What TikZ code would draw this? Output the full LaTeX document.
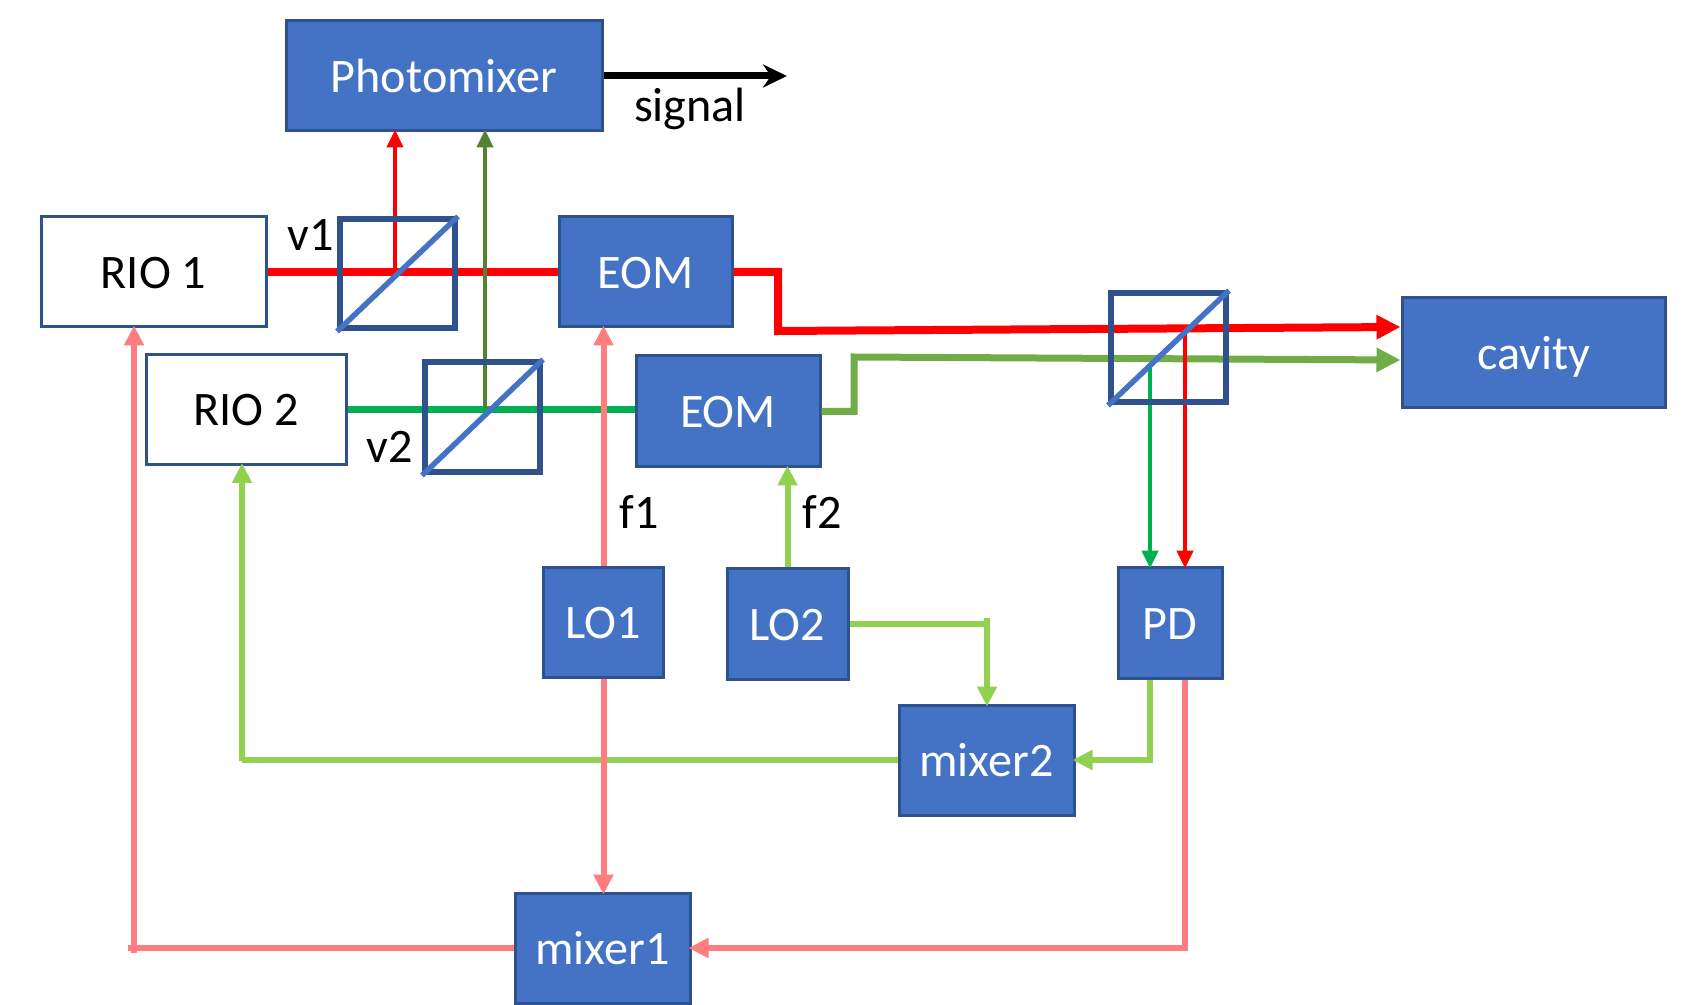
\documentclass[tikz,border=0pt]{standalone}
\usepackage{fontspec}
\setmainfont{Carlito}
\usepackage{xcolor}
\usepackage{tikz}
\usetikzlibrary{calc,arrows.meta}
\definecolor{boxBlue}{HTML}{4472C4}
\definecolor{boxEdge}{HTML}{2F528F}
\definecolor{beamRed}{HTML}{FF0000}
\definecolor{beamGreen}{HTML}{00B050}
\definecolor{beamDark}{HTML}{548235}
\definecolor{beamOlive}{HTML}{70AD47}
\definecolor{beamLime}{HTML}{92D050}
\definecolor{beamPink}{HTML}{FF7C80}
\tikzstyle{tsText} = [ 
    font=\fontsize{13.7}{16}\selectfont
]
\tikzstyle{tsWhite} = [ 
    rectangle,
    tsText,
    text=black,
    text height=0.45cm,
    text depth=0.12cm,
    draw=boxEdge,
    fill=white,
    inner sep=0pt,
    line width=0.3mm]
\tikzstyle{tsBlue} = [ 
    tsWhite,
    text=white,
    fill=boxBlue]
\tikzstyle{tsCube} = [ 
    rectangle,
    draw=boxEdge,
    inner sep=0pt,
    line width=0.6mm]
\tikzstyle{tsDiag} = [ 
    draw=boxBlue,
    line width=0.55mm]
\tikzstyle{tsLabel} = [ 
    tsText,
    text=black,
    inner sep=0pt]
\tikzstyle{tsThin} = [ 
    -{Triangle[length=1.8mm,width=1.6mm]},
    shorten >=-0.3mm,
    line width=0.45mm]
\tikzstyle{tsFeed} = [ 
    -{Triangle[length=2.0mm,width=1.9mm]},
    shorten >=-0.3mm,
    line width=0.6mm]

\begin{document}
\begin{tikzpicture}

    \useasboundingbox (0,0) rectangle (16.83,10.04);

    % sources and modulators
    \node[tsWhite, minimum width=2.25cm, minimum height=1.10cm] (rio1) at (1.535,7.32) {RIO 1};
    \node[tsWhite, minimum width=2.00cm, minimum height=1.10cm] (rio2) at (2.46,5.945) {RIO 2};
    \node[tsBlue, minimum width=3.16cm, minimum height=1.10cm] (photomixer) at (4.44,9.28) {Photomixer};
    \node[tsBlue, minimum width=1.73cm, minimum height=1.10cm] (eom1) at (6.455,7.32) {EOM};
    \node[tsBlue, minimum width=1.84cm, minimum height=1.11cm] (eom2) at (7.28,5.925) {EOM};
    \node[tsBlue, minimum width=2.63cm, minimum height=1.10cm] (cavity) at (15.335,6.51) {cavity};

    % oscillators, detector and mixers
    \node[tsBlue, minimum width=1.20cm, minimum height=1.10cm] (lo1) at (6.035,3.82) {LO1};
    \node[tsBlue, minimum width=1.21cm, minimum height=1.11cm] (lo2) at (7.875,3.805) {LO2};
    \node[tsBlue, minimum width=1.04cm, minimum height=1.11cm] (pd) at (11.70,3.815) {PD};
    \node[tsBlue, minimum width=1.75cm, minimum height=1.10cm] (mixer2) at (9.865,2.44) {mixer2};
    \node[tsBlue, minimum width=1.75cm, minimum height=1.10cm] (mixer1) at (6.025,0.56) {mixer1};

    % points where the beams leave the cubes
    \coordinate (pick1) at (3.95,7.33);
    \coordinate (pick2) at (4.85,5.96);
    \coordinate (pickGreen) at (11.50,6.36);
    \coordinate (pickRed) at (11.85,6.74);
    \coordinate (kinkRed) at (7.78,6.73);
    \coordinate (kinkOlive) at (8.54,6.47);
    \coordinate (tapRio1) at (1.34,0.56);
    \coordinate (tapRio2) at (2.42,2.43);
    \coordinate (tapMixer2) at (9.87,3.81);
    \coordinate (signalEnd) at (7.87,9.28);

    % beams
    \draw[beamRed, line width=0.8mm] (rio1.east) -- (eom1.west);
    \draw[beamGreen, line width=0.7mm] (rio2.east) -- (rio2.east -| eom2.west);
    \draw[beamRed, line width=0.8mm, -{Triangle[length=2.4mm,width=2.3mm]}]
        (eom1.east) -- (kinkRed |- eom1.east) -- (kinkRed) -- ($(cavity.west)+(0,0.26)$);
    \draw[beamOlive, line width=0.7mm, -{Triangle[length=2.4mm,width=2.3mm]}]
        (eom2.east) -- (kinkOlive |- eom2.east) -- (kinkOlive) -- ($(cavity.west)+(0,-0.07)$);
    \draw[beamRed, tsThin] (pick1) -- (pick1 |- photomixer.south);
    \draw[beamDark, tsThin] (pick2) -- (pick2 |- photomixer.south);
    \draw[beamGreen, tsThin] (pickGreen) -- (pickGreen |- pd.north);
    \draw[beamRed, tsThin] (pickRed) -- (pickRed |- pd.north);
    \draw[black, line width=0.7mm, -{Stealth[length=2.4mm,width=2.3mm]}] (photomixer.east) -- (signalEnd);

    % feedback lines
    \draw[beamLime, line width=0.6mm] (mixer2.west) -- (tapRio2 |- mixer2.west);
    \draw[beamLime, tsFeed] (tapRio2) -- (tapRio2 |- rio2.south);
    \draw[beamLime, tsFeed] (lo2.north) -- (lo2.north |- eom2.south);
    \draw[beamLime, line width=0.6mm] (lo2.east) -- ($(tapMixer2 |- lo2.east)+(0.03,0)$);
    \draw[beamLime, tsFeed] ($(tapMixer2)+(0,0.05)$) -- (tapMixer2 |- mixer2.north);
    \draw[beamLime, line width=0.6mm] (pickGreen |- pd.south) -- (pickGreen |- mixer2.east);
    \draw[beamLime, tsFeed] ($(pickGreen |- mixer2.east)+(0.03,0)$) -- (mixer2.east);
    \draw[beamPink, tsFeed] (lo1.north) -- (lo1.north |- eom1.south);
    \draw[beamPink, tsFeed] (lo1.south) -- (lo1.south |- mixer1.north);
    \draw[beamPink, line width=0.6mm] (mixer1.west) -- ($(tapRio1)+(-0.06,0)$);
    \draw[beamPink, tsFeed] ($(tapRio1)+(0,-0.05)$) -- (tapRio1 |- rio1.south);
    \draw[beamPink, line width=0.6mm] (pickRed |- pd.south) -- ($(pickRed |- mixer1.east)+(0,-0.03)$);
    \draw[beamPink, tsFeed] (pickRed |- mixer1.east) -- (mixer1.east);

    % beam splitter cubes
    \node[tsCube, minimum width=1.15cm, minimum height=1.09cm] (cube1) at (3.975,7.30) {};
    \node[tsCube, minimum width=1.15cm, minimum height=1.10cm] (cube2) at (4.825,5.865) {};
    \node[tsCube, minimum width=1.15cm, minimum height=1.09cm] (cube3) at (11.685,6.56) {};
    \draw[tsDiag] (cube1.south west) -- (cube1.north east);
    \draw[tsDiag] (cube2.south west) -- (cube2.north east);
    \draw[tsDiag] (cube3.south west) -- (cube3.north east);

    % labels
    \node[tsLabel] (v1) at (3.11,7.69) {v1};
    \node[tsLabel] (v2) at (3.90,5.57) {v2};
    \node[tsLabel] (f1) at (6.39,4.92) {f1};
    \node[tsLabel] (f2) at (8.22,4.92) {f2};
    \node[tsLabel] (signal) at (6.90,8.95) {signal};

\end{tikzpicture}
\end{document}
